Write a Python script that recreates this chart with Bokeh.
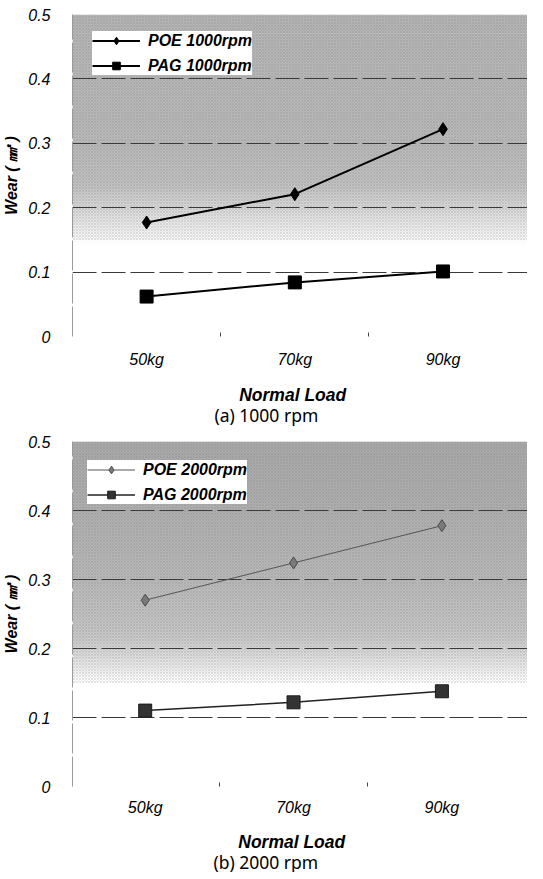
from bokeh.plotting import figure
from bokeh.models import Range1d, FixedTicker, BoxAnnotation, Label
from bokeh.layouts import column
from bokeh.embed import file_html
from bokeh.resources import INLINE

# ---- data ----
loads = ["50kg", "70kg", "90kg"]
poe_1000 = [0.177, 0.221, 0.322]
pag_1000 = [0.062, 0.084, 0.101]
poe_2000 = [0.270, 0.324, 0.378]
pag_2000 = [0.110, 0.122, 0.138]
y_ticks = [0, 0.1, 0.2, 0.3, 0.4, 0.5]
y_tick_labels = ["0", "0.1", "0.2", "0.3", "0.4", "0.5"]
x_title = "Normal Load"
y_title = "Wear ( \u339f )"
captions = ["(a) 1000 rpm", "(b) 2000 rpm"]
labels_1000 = ["POE 1000rpm", "PAG 1000rpm"]
labels_2000 = ["POE 2000rpm", "PAG 2000rpm"]

FONT = "Liberation Sans"
W = 527
FRAME_LEFT = 59   # frames of the stacked figures are aligned by the column layout


def lerp_stops(y, stops):
    if y >= stops[0][0]:
        return stops[0][1]
    for (y0, g0), (y1, g1) in zip(stops[:-1], stops[1:]):
        if y1 <= y <= y0:
            t = (y0 - y) / (y0 - y1)
            return g0 + (g1 - g0) * t
    return 255


def make_panel(poe, pag, names, height, border_top, border_left, border_bottom,
               xr, stops, poe_style, pag_style, legend_loc, tick_standoff):
    xs = list(range(len(loads)))
    p = figure(width=W, height=height, output_backend="svg", toolbar_location=None,
               x_range=Range1d(*xr), y_range=Range1d(0, 0.5),
               min_border_top=border_top, min_border_left=border_left,
               min_border_right=0, min_border_bottom=border_bottom,
               background_fill_color="white", border_fill_color="white",
               outline_line_color=None)

    # background gradient
    step = 0.005
    yb = 0.13
    while yb < 0.5 - 1e-9:
        g = int(round(lerp_stops(yb + step / 2, stops)))
        col = "#%02x%02x%02x" % (g, g, g)
        p.add_layout(BoxAnnotation(bottom=yb, top=min(yb + step + 0.001, 0.5),
                                   fill_color=col, fill_alpha=1.0, line_color=None,
                                   level="image"))
        yb += step
    p.add_layout(BoxAnnotation(bottom=0.15, top=0.5, fill_alpha=0, line_color=None,
                               hatch_pattern="diagonal_cross", hatch_scale=3,
                               hatch_color="#6a6a6a", hatch_alpha=0.3, hatch_weight=0.6,
                               level="image"))

    # grid
    p.xgrid.grid_line_color = None
    p.ygrid.ticker = FixedTicker(ticks=y_ticks)
    p.ygrid.grid_line_color = "#3a3a3a"
    p.ygrid.grid_line_width = 1
    p.ygrid.grid_line_dash = "24 5"

    # axes
    p.xaxis.ticker = FixedTicker(ticks=xs, minor_ticks=[0.5, 1.5])
    p.xaxis.major_label_overrides = {i: lab for i, lab in enumerate(loads)}
    p.xaxis.axis_line_color = None
    p.xaxis.major_tick_line_color = None
    p.xaxis.minor_tick_in = 4
    p.xaxis.minor_tick_out = 0
    p.xaxis.minor_tick_line_color = "#444444"
    p.xaxis.major_label_text_font = FONT
    p.xaxis.major_label_text_font_style = "italic"
    p.xaxis.major_label_text_font_size = "16px"
    p.xaxis.major_label_text_color = "black"
    p.xaxis.major_label_standoff = tick_standoff

    p.yaxis.ticker = FixedTicker(ticks=y_ticks)
    p.yaxis.major_label_overrides = {t: l for t, l in zip(y_ticks, y_tick_labels)}
    p.yaxis.axis_line_color = "#9a9a9a"
    p.yaxis.axis_line_dash = "30 3"
    p.yaxis.major_tick_line_color = None
    p.yaxis.minor_tick_line_color = None
    p.yaxis.major_label_text_font = FONT
    p.yaxis.major_label_text_font_style = "italic"
    p.yaxis.major_label_text_font_size = "16px"
    p.yaxis.major_label_text_color = "black"
    p.yaxis.major_label_standoff = 16
    p.yaxis.axis_label = y_title
    p.yaxis.axis_label_text_font = FONT
    p.yaxis.axis_label_text_font_style = "bold italic"
    p.yaxis.axis_label_text_font_size = "16px"
    p.yaxis.axis_label_text_color = "black"
    p.yaxis.axis_label_standoff = 5

    # series
    p.line(xs, poe, line_color=poe_style["line"], line_width=poe_style["lw"], legend_label=names[0])
    p.scatter(xs, poe, marker="diamond", size=poe_style["size"], fill_color=poe_style["fill"],
              line_color=poe_style["edge"], legend_label=names[0])
    p.line(xs, pag, line_color=pag_style["line"], line_width=pag_style["lw"], legend_label=names[1])
    p.scatter(xs, pag, marker="square", size=pag_style["size"], fill_color=pag_style["fill"],
              line_color=pag_style["edge"], legend_label=names[1])

    lg = p.legend[0]
    lg.location = legend_loc
    lg.background_fill_color = "white"
    lg.background_fill_alpha = 1.0
    lg.border_line_color = None
    lg.label_text_font = FONT
    lg.label_text_font_style = "bold italic"
    lg.label_text_font_size = "16px"
    lg.label_text_color = "black"
    lg.glyph_width = 48
    lg.glyph_height = 19
    lg.label_standoff = 8
    lg.spacing = 6
    lg.padding = 5
    lg.margin = 0
    return p


def make_caption(caption, height, title_pos, cap_pos):
    c = figure(width=W, height=height, output_backend="svg", toolbar_location=None,
               x_range=Range1d(FRAME_LEFT, W), y_range=Range1d(0, height),
               x_axis_location=None, y_axis_location=None,
               min_border_left=0, min_border_right=0, min_border_top=0, min_border_bottom=0,
               outline_line_color=None,
               background_fill_color="white", border_fill_color="white")
    c.grid.visible = False
    c.add_layout(Label(x=title_pos[0], y=title_pos[1], text=x_title, text_font=FONT,
                       text_font_style="bold italic", text_font_size="17.5px",
                       text_color="black", text_align="center", text_baseline="middle"))
    c.add_layout(Label(x=cap_pos[0], y=cap_pos[1], text=caption, text_font="Noto Sans",
                       text_font_style="normal", text_font_size="17.5px",
                       text_color="black", text_align="left", text_baseline="middle"))
    return c


p1 = make_panel(poe_1000, pag_1000, labels_1000, height=374,
                border_top=14, border_left=FRAME_LEFT, border_bottom=38, xr=(-0.5, 2.57),
                stops=[(0.5, 182), (0.3, 186), (0.235, 194), (0.205, 214), (0.175, 234), (0.15, 250), (0.14, 255)],
                poe_style=dict(line="black", lw=2, size=13, fill="black", edge="black"),
                pag_style=dict(line="black", lw=2, size=13, fill="black", edge="black"),
                legend_loc=(20, 261), tick_standoff=8)
c1 = make_caption(captions[0], 54, (285.5, 34), (205, 14))
p2 = make_panel(poe_2000, pag_2000, labels_2000, height=394,
                border_top=13, border_left=FRAME_LEFT, border_bottom=36, xr=(-0.49, 2.577),
                stops=[(0.5, 170), (0.4, 176), (0.3, 186), (0.22, 200), (0.19, 222), (0.165, 245), (0.155, 255)],
                poe_style=dict(line="#555555", lw=1, size=12, fill="#7a7a7a", edge="#4a4a4a"),
                pag_style=dict(line="#222222", lw=1.5, size=13, fill="#333333", edge="#1a1a1a"),
                legend_loc=(15, 282), tick_standoff=6)
c2 = make_caption(captions[1], 50, (284.5, 31), (204, 11))

layout = column(p1, c1, p2, c2, spacing=0)
open("out.html", "w").write(file_html(layout, INLINE))
